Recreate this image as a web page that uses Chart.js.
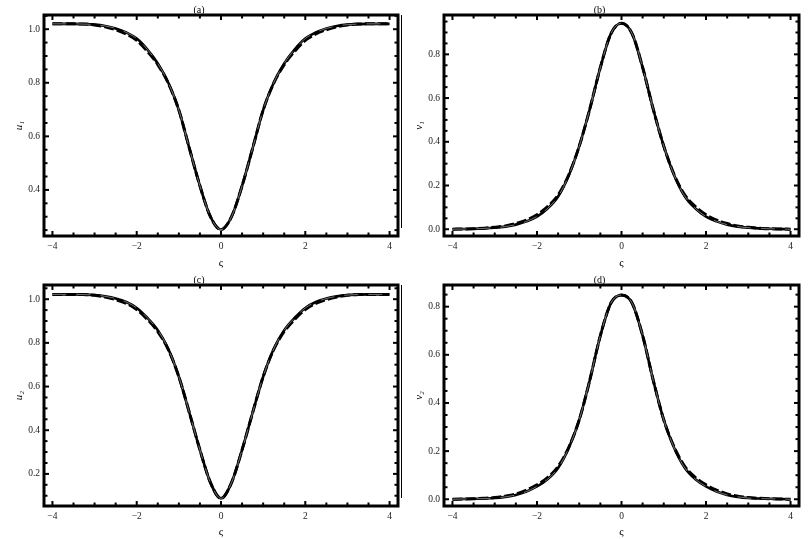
<!DOCTYPE html>
<html>
<head>
<meta charset="utf-8">
<script src="https://cdn.jsdelivr.net/npm/chart.js@4.4.1/dist/chart.umd.min.js"></script>
<style>
  body { margin: 0; background: #fff; }
  #wrap { position: relative; width: 812px; height: 539px; overflow: hidden; }
  canvas { position: absolute; }
  .edge { position: absolute; left: 401px; width: 1px; background: #000; }
</style>
</head>
<body>
<div id="wrap">
  <canvas id="pa" width="400" height="270" style="left:0;top:0"></canvas>
  <canvas id="pb" width="412" height="270" style="left:400px;top:0"></canvas>
  <canvas id="pc" width="400" height="269" style="left:0;top:270px"></canvas>
  <canvas id="pd" width="412" height="269" style="left:400px;top:270px"></canvas>
  <div class="edge" style="top:15px;height:213px"></div>
  <div class="edge" style="top:285px;height:213px"></div>
</div>
<script>
const xs = [-4, -3.75, -3.5, -3.25, -3, -2.75, -2.5, -2.25, -2, -1.75, -1.5, -1.25, -1, -0.75, -0.5, -0.25, 0,
            0.25, 0.5, 0.75, 1, 1.25, 1.5, 1.75, 2, 2.25, 2.5, 2.75, 3, 3.25, 3.5, 3.75, 4];

// (a) u1
const u1Exact  = [1.020, 1.020, 1.020, 1.019, 1.017, 1.012, 1.003, 0.988, 0.965, 0.925, 0.872, 0.800, 0.698, 0.555, 0.415, 0.300, 0.252,
                  0.300, 0.415, 0.555, 0.698, 0.800, 0.872, 0.925, 0.965, 0.988, 1.003, 1.012, 1.017, 1.019, 1.020, 1.020, 1.020];
const u1Approx = [1.020, 1.020, 1.020, 1.019, 1.016, 1.009, 0.998, 0.982, 0.958, 0.918, 0.868, 0.798, 0.698, 0.555, 0.415, 0.300, 0.252,
                  0.300, 0.415, 0.555, 0.698, 0.798, 0.868, 0.918, 0.958, 0.982, 0.998, 1.009, 1.016, 1.019, 1.020, 1.020, 1.020];
// (b) v1
const v1Exact  = [0.000, 0.001, 0.002, 0.004, 0.007, 0.012, 0.021, 0.036, 0.058, 0.095, 0.150, 0.245, 0.380, 0.550, 0.740, 0.895, 0.942,
                  0.895, 0.740, 0.550, 0.380, 0.245, 0.150, 0.095, 0.058, 0.036, 0.021, 0.012, 0.007, 0.004, 0.002, 0.001, 0.000];
const v1Approx = [0.000, 0.001, 0.002, 0.005, 0.009, 0.015, 0.026, 0.042, 0.066, 0.103, 0.156, 0.248, 0.380, 0.550, 0.740, 0.895, 0.942,
                  0.895, 0.740, 0.550, 0.380, 0.248, 0.156, 0.103, 0.066, 0.042, 0.026, 0.015, 0.009, 0.005, 0.002, 0.001, 0.000];
// (c) u2
const u2Exact  = [1.022, 1.022, 1.022, 1.021, 1.019, 1.013, 1.003, 0.987, 0.960, 0.915, 0.858, 0.772, 0.645, 0.480, 0.310, 0.160, 0.088,
                  0.160, 0.310, 0.480, 0.645, 0.772, 0.858, 0.915, 0.960, 0.987, 1.003, 1.013, 1.019, 1.021, 1.022, 1.022, 1.022];
const u2Approx = [1.022, 1.022, 1.022, 1.021, 1.018, 1.010, 0.998, 0.981, 0.953, 0.908, 0.852, 0.769, 0.645, 0.480, 0.310, 0.160, 0.088,
                  0.160, 0.310, 0.480, 0.645, 0.769, 0.852, 0.908, 0.953, 0.981, 0.998, 1.010, 1.018, 1.021, 1.022, 1.022, 1.022];
// (d) v2
const v2Exact  = [0.000, 0.001, 0.002, 0.003, 0.005, 0.010, 0.018, 0.032, 0.053, 0.083, 0.130, 0.212, 0.330, 0.495, 0.680, 0.815, 0.848,
                  0.815, 0.680, 0.495, 0.330, 0.212, 0.130, 0.083, 0.053, 0.032, 0.018, 0.010, 0.005, 0.003, 0.002, 0.001, 0.000];
const v2Approx = [0.000, 0.001, 0.002, 0.004, 0.007, 0.013, 0.022, 0.038, 0.060, 0.090, 0.136, 0.215, 0.330, 0.495, 0.680, 0.815, 0.848,
                  0.815, 0.680, 0.495, 0.330, 0.215, 0.136, 0.090, 0.060, 0.038, 0.022, 0.013, 0.007, 0.004, 0.002, 0.001, 0.000];

const xTicks = [-4, -2, 0, 2, 4];
const yTicksA = [0.4, 0.6, 0.8, 1.0];
const yTicksB = [0.0, 0.2, 0.4, 0.6, 0.8];
const yTicksC = [0.2, 0.4, 0.6, 0.8, 1.0];
const yTicksD = [0.0, 0.2, 0.4, 0.6, 0.8];

const serif = "'Liberation Serif', 'DejaVu Serif', serif";

// Mathematica-like frame with inward ticks on all four sides
const frameTicks = {
  id: 'frameTicks',
  afterDatasetsDraw(chart) {
    const { ctx, chartArea: a, scales: { x, y } } = chart;
    const seg = (x1, y1, x2, y2) => { ctx.beginPath(); ctx.moveTo(x1, y1); ctx.lineTo(x2, y2); ctx.stroke(); };
    ctx.save();
    ctx.strokeStyle = '#000';
    ctx.lineWidth = 2;
    for (let i = -8; i <= 8; i++) {
      const v = i / 2;
      const len = i % 4 === 0 ? 5 : 3.5;
      const px = x.getPixelForValue(v);
      seg(px, a.bottom, px, a.bottom - len);
      seg(px, a.top, px, a.top + len);
    }
    for (let i = Math.ceil(y.min * 20); i <= Math.floor(y.max * 20); i++) {
      const v = i / 20;
      const len = i % 4 === 0 ? 5 : 3.5;
      const py = y.getPixelForValue(v);
      seg(a.left, py, a.left + len, py);
      seg(a.right, py, a.right - len, py);
    }
    ctx.lineWidth = 3;
    ctx.strokeRect(a.left, a.top, a.right - a.left, a.bottom - a.top);
    ctx.restore();
  }
};

function pts(vals) {
  return xs.map((x, i) => ({ x: x, y: vals[i] }));
}

function makePanel(id, title, yTitle, exact, approx, yMin, yMax, yTicks, padRight, xHeight) {
  new Chart(document.getElementById(id), {
    type: 'line',
    data: {
      datasets: [
        { data: pts(exact), borderColor: 'rgba(255,255,255,0.75)', borderWidth: 0.6, borderDash: [14, 10], order: 0 },
        { data: pts(approx), borderColor: '#000', borderWidth: 3, borderDash: [10, 3], order: 1 },
        { data: pts(exact), borderColor: '#000', borderWidth: 2.6, order: 2 }
      ]
    },
    options: {
      responsive: false,
      animation: false,
      devicePixelRatio: 1,
      layout: { padding: { top: 0, right: padRight, bottom: 0, left: 0 } },
      elements: {
        point: { radius: 0 },
        line: { cubicInterpolationMode: 'monotone', fill: false }
      },
      plugins: {
        legend: { display: false },
        tooltip: { enabled: false },
        title: {
          display: true, text: title, color: '#000',
          font: { family: serif, size: 10, weight: 'normal', lineHeight: 1 },
          padding: { top: 5, bottom: 0 }
        }
      },
      scales: {
        x: {
          type: 'linear', min: -4.2, max: 4.2,
          grid: { display: false, drawTicks: false },
          border: { display: false },
          afterBuildTicks: s => { s.ticks = xTicks.map(v => ({ value: v })); },
          afterFit: s => { s.height = xHeight; },
          ticks: {
            color: '#222', padding: 5, maxRotation: 0,
            font: { family: serif, size: 9.5 },
            callback: v => v < 0 ? '\u2212' + Math.abs(v) : String(v)
          },
          title: {
            display: true, text: 'ς', color: '#000',
            font: { family: serif, size: 11 },
            padding: { top: 0, bottom: 0 }
          }
        },
        y: {
          type: 'linear', min: yMin, max: yMax,
          grid: { display: false, drawTicks: false },
          border: { display: false },
          afterBuildTicks: s => { s.ticks = yTicks.map(v => ({ value: v })); },
          afterFit: s => { s.width = 44; },
          ticks: {
            color: '#222', padding: 4,
            font: { family: serif, size: 9.5 },
            callback: v => v.toFixed(1)
          },
          title: {
            display: true, text: yTitle, color: '#000',
            font: { family: serif, size: 11, style: 'italic' },
            padding: { top: 13, bottom: 0 }
          }
        }
      }
    },
    plugins: [frameTicks]
  });
}

makePanel('pa', '(a)', 'u\u2081', u1Exact, u1Approx, 0.228, 1.053, yTicksA, 2, 34);
makePanel('pb', '(b)', 'v\u2081', v1Exact, v1Approx, -0.031, 0.98, yTicksB, 13, 34);
makePanel('pc', '(c)', 'u\u2082', u2Exact, u2Approx, 0.053, 1.065, yTicksC, 2, 33);
makePanel('pd', '(d)', 'v\u2082', v2Exact, v2Approx, -0.028, 0.89, yTicksD, 13, 33);
</script>
</body>
</html>
